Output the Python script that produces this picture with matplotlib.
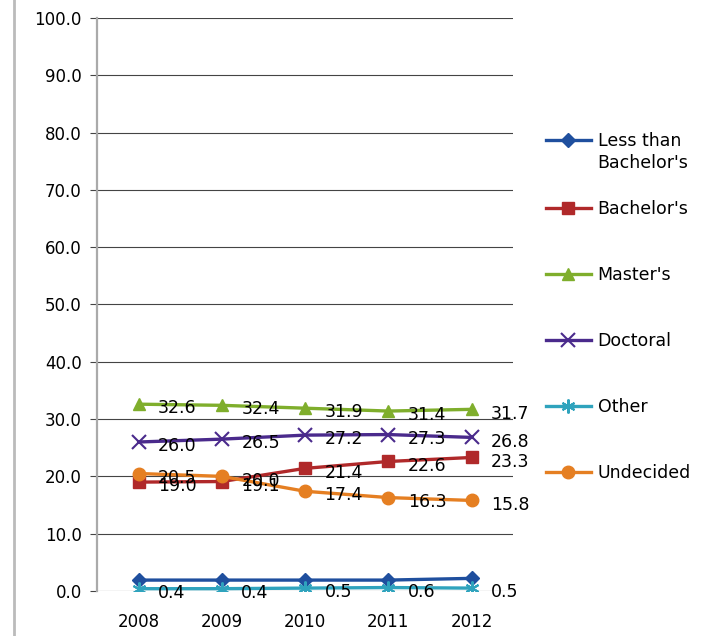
import matplotlib

matplotlib.use("Agg")
import matplotlib.pyplot as plt
from matplotlib.lines import Line2D

years = ["2008", "2009", "2010", "2011", "2012"]

less_than_bachelors = [1.9, 1.9, 1.9, 1.9, 2.2]
bachelors = [19.0, 19.1, 21.4, 22.6, 23.3]
masters = [32.6, 32.4, 31.9, 31.4, 31.7]
doctoral = [26.0, 26.5, 27.2, 27.3, 26.8]
other = [0.4, 0.4, 0.5, 0.6, 0.5]
undecided = [20.5, 20.0, 17.4, 16.3, 15.8]

series = [
    ("Less than\nBachelor's", less_than_bachelors, "#1f4f9e", "D", 7, False),
    ("Bachelor's", bachelors, "#b0292a", "s", 8, True),
    ("Master's", masters, "#7fae2c", "^", 9, True),
    ("Doctoral", doctoral, "#4a2a8c", "x", 10, True),
    ("Other", other, "#2fa3bd", (6, 2, 0), 10, True),
    ("Undecided", undecided, "#e57f22", "o", 9, True),
]

fig = plt.figure(figsize=(7.03, 6.36), dpi=100)
ax = fig.add_axes([0.138, 0.0708, 0.592, 0.9009])

x = list(range(len(years)))
handles = []
for label, vals, color, marker, ms, show in series:
    thin = marker == "x" or isinstance(marker, tuple)
    (ln,) = ax.plot(x, vals, color=color, linewidth=2.4, marker=marker,
                    markersize=ms, markeredgewidth=1.5 if thin else 1,
                    markeredgecolor=color, markerfacecolor=color, zorder=3)
    handles.append(ln)
    if show:
        for xi, v in zip(x, vals):
            ax.annotate("%.1f" % v, (xi, v), xytext=(14, -3), textcoords="offset points",
                        ha="left", va="center", fontsize=12.5, color="black", zorder=4)

ax.set_xlim(-0.5, 4.5)
ax.set_ylim(0, 100)
ax.set_xticks(x)
ax.set_xticklabels(years, fontsize=12)
ax.set_yticks(range(0, 101, 10))
ax.set_yticklabels(["%.1f" % v for v in range(0, 101, 10)], fontsize=12)
ax.tick_params(axis="x", length=0, pad=16)
ax.tick_params(axis="y", length=5, color="#444444", width=0.8, pad=6)
ax.grid(axis="y", color="#444444", linewidth=0.8, zorder=0)
ax.set_axisbelow(True)
for s in ["top", "right", "bottom"]:
    ax.spines[s].set_visible(False)
ax.spines["left"].set_color("#aaaaaa")
ax.spines["left"].set_linewidth(1.6)

# legend in two parts; first entry's handle sits on its first text line
leg_kw = dict(loc="upper left", frameon=False, fontsize=12.5, handlelength=2.6,
              handletextpad=0.4, labelspacing=2.76, borderaxespad=0, borderpad=0)
first_lines = series[0][0].split("\n")
leg1 = fig.legend(handles[:1], [first_lines[0]], bbox_to_anchor=(0.776, 0.792), **leg_kw)
fig.legend(handles[1:], [s[0] for s in series[1:]], bbox_to_anchor=(0.776, 0.685), **leg_kw)

fig.canvas.draw()
bb = leg1.get_texts()[0].get_window_extent().transformed(fig.transFigure.inverted())
fig.text(bb.x0, bb.y0 - 0.034, first_lines[1], fontsize=12.5, ha="left", va="bottom")

fig.add_artist(Line2D([0.02, 0.02], [0, 1], color="#bbbbbb", linewidth=2))

plt.savefig("out.png", dpi=100)
plt.close()
